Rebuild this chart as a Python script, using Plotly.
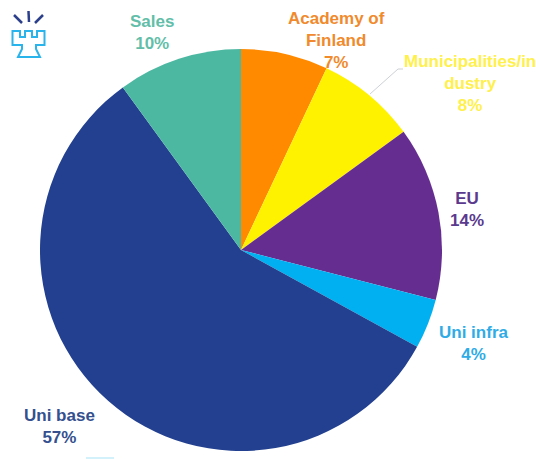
import plotly.graph_objects as go

W, H = 536, 459

# Funding sources, clockwise from twelve o'clock
sources = ["Academy of Finland", "Municipalities/industry", "EU", "Uni infra", "Uni base", "Sales"]
shares = [7, 8, 14, 4, 57, 10]
slice_colors = ["#FF8A00", "#FFF200", "#662D91", "#00B0F0", "#22408F", "#4DB8A2"]
label_lines = [
    "Academy of<br>Finland",
    "Municipalities/in<br>dustry",
    "EU",
    "Uni infra",
    "Uni base",
    "Sales",
]
label_colors = ["#F08A2C", "#FFF04A", "#5B3A8E", "#2FACE6", "#34508F", "#62BEA8"]
label_x = [336, 470, 467, 473, 59, 152]
label_y = [41, 83, 210, 343, 426, 32]


def px(x):
    return x / W


def py(y):
    return 1 - y / H


fig = go.Figure(
    go.Pie(
        labels=sources,
        values=shares,
        sort=False,
        direction="clockwise",
        rotation=0,
        marker=dict(colors=slice_colors, line=dict(width=0)),
        textinfo="none",
        hoverinfo="label+percent",
        showlegend=False,
        domain=dict(x=[px(40), px(442)], y=[py(451), py(49)]),
    )
)

for line, share, color, x, y in zip(label_lines, shares, label_colors, label_x, label_y):
    fig.add_annotation(
        x=px(x), y=py(y), xref="paper", yref="paper",
        xanchor="center", yanchor="middle", showarrow=False, align="center",
        text=f"<b>{line}<br>{share}%</b>",
        font=dict(family="Liberation Sans", size=17, color=color),
    )

shapes = [
    # Leader from the municipalities slice to its label
    dict(type="path", path="M 370 94 L 398 69 L 403 69",
         line=dict(color="#CDD1D5", width=1)),
    # Logo: three rays above a tower outline
    dict(type="line", x0=14, y0=15, x1=22, y1=23, line=dict(color="#2B3F8C", width=2.5)),
    dict(type="line", x0=28.5, y0=11, x1=29, y1=22, line=dict(color="#2B3F8C", width=2.5)),
    dict(type="line", x0=43, y0=15, x1=35, y1=23, line=dict(color="#2B3F8C", width=2.5)),
    dict(type="path",
         path="M 12.5 31 L 20 31 L 20 37 L 25 37 L 25 31 L 32 31 L 32 37 L 37 37 L 37 31 L 44.5 31 "
              "L 44.5 45 L 36 45 L 36 49 L 40 57 L 18 57 L 22 49 L 22 45 L 12.5 45 Z",
         line=dict(color="#29B4EC", width=2)),
    # Sliver of cyan along the bottom edge
    dict(type="line", x0=86, y0=458, x1=114, y1=458, line=dict(color="#C4ECFA", width=1.5)),
]
for s in shapes:
    s.update(xref="x", yref="y", layer="above")

fig.update_layout(
    width=W, height=H,
    margin=dict(l=0, r=0, t=0, b=0),
    paper_bgcolor="white",
    plot_bgcolor="rgba(0,0,0,0)",
    xaxis=dict(range=[0, W], visible=False, fixedrange=True),
    yaxis=dict(range=[H, 0], visible=False, fixedrange=True),
    shapes=shapes,
)

fig.write_html("out.html", config=dict(displayModeBar=False))
